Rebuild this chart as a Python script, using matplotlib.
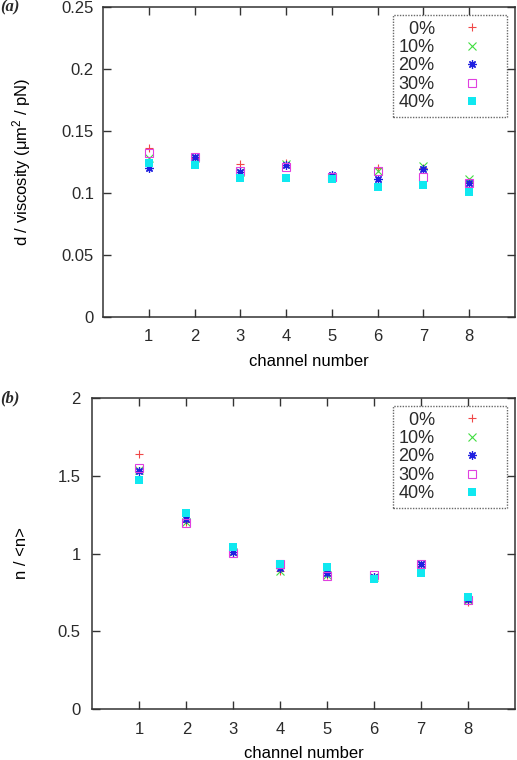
import matplotlib
matplotlib.use('Agg')
from matplotlib import pyplot as plt
from matplotlib.lines import Line2D

plt.rcParams['font.family'] = ['Liberation Sans', 'DejaVu Sans']
plt.rcParams['font.size'] = 12
plt.rcParams['text.color'] = '#2a2a2a'

channels = [1, 2, 3, 4, 5, 6, 7, 8]
labels = ['0%', '10%', '20%', '30%', '40%']

# panel (a): d / viscosity
visc = {
    '0%':  [0.136, 0.128, 0.123, 0.124, 0.113, 0.120, 0.120, 0.109],
    '10%': [0.128, 0.128, 0.117, 0.123, 0.113, 0.118, 0.122, 0.111],
    '20%': [0.120, 0.129, 0.117, 0.1225, 0.1145, 0.111, 0.119, 0.108],
    '30%': [0.132, 0.129, 0.118, 0.121, 0.113, 0.118, 0.113, 0.108],
    '40%': [0.124, 0.1225, 0.112, 0.112, 0.111, 0.1045, 0.1065, 0.101],
}

# panel (b): n / <n>
nrel = {
    '0%':  [1.638, 1.20, 1.01, 0.89, 0.86, 0.85, 0.92, 0.690],
    '10%': [1.54, 1.20, 1.01, 0.889, 0.86, 0.85, 0.93, 0.70],
    '20%': [1.53, 1.220, 1.01, 0.91, 0.872, 0.85, 0.932, 0.71],
    '30%': [1.552, 1.194, 1.001, 0.93, 0.855, 0.862, 0.93, 0.70],
    '40%': [1.473, 1.262, 1.044, 0.932, 0.911, 0.834, 0.877, 0.722],
}

styles = {
    '0%':  dict(marker='+', color='#f04848', ms=6, mew=0.8),
    '10%': dict(marker='x', color='#40dd40', ms=5.5, mew=0.8),
    '20%': dict(marker=(8, 2, 0), color='#2020e0', ms=6, mew=0.9),
    '30%': dict(marker='s', mfc='none', color='#e040e0', ms=5.5, mew=0.8),
    '40%': dict(marker='s', color='#10e8f0', ms=6, mew=0),
}

axcol = '#333333'


def draw_panel(ax, data, ylim, yticks, ylabel, ypad, ylab_x):
    for lab in labels:
        ax.plot(channels, data[lab], linestyle='none', label=lab, **styles[lab])
    ax.set_xlim(0, 9)
    ax.set_ylim(*ylim)
    ax.set_xticks(channels)
    ax.set_yticks(yticks)
    ax.set_yticklabels([f'{t:g}' for t in yticks])
    ax.tick_params(direction='in', top=True, right=True, length=6, width=1,
                   color=axcol, labelcolor='#2a2a2a', labelsize=12)
    ax.tick_params(axis='x', pad=9)
    ax.tick_params(axis='y', pad=ypad)
    for s in ax.spines.values():
        s.set_linewidth(1.1)
        s.set_color(axcol)
    ax.set_xlabel('channel number', labelpad=6.5)
    ax.set_ylabel(ylabel)
    ax.yaxis.set_label_coords(ylab_x, 0.5)

    handles = [Line2D([], [], linestyle='none', **styles[lab]) for lab in labels]
    leg = ax.legend(handles, ['\u2007' + l if len(l) == 2 else l for l in labels],
                    loc='upper right', markerfirst=False, fancybox=False,
                    borderaxespad=0.45, labelspacing=0.08, handletextpad=0.4,
                    handlelength=3.3, borderpad=0.3, fontsize=13)
    fr = leg.get_frame()
    fr.set_linestyle((0, (1, 1)))
    fr.set_edgecolor('#444444')
    fr.set_linewidth(1.0)


fig = plt.figure(figsize=(5.17, 7.6), dpi=100)
ax1 = fig.add_axes([0.1992, 0.5829, 0.797, 0.4079])
ax2 = fig.add_axes([0.1789, 0.0671, 0.8172, 0.4092])

draw_panel(ax1, visc, (0, 0.25), [0, 0.05, 0.1, 0.15, 0.2, 0.25],
           r'd / viscosity ($\mathregular{\mu m^2}$ / pN)', 6.5, -0.170)
draw_panel(ax2, nrel, (0, 2), [0, 0.5, 1, 1.5, 2], 'n / <n>', 8.5, -0.150)

fig.text(0.0, 0.990, '(a)', fontsize=12, fontweight='bold', fontstyle='italic',
         family='Liberation Serif', va='center')
fig.text(0.0, 0.476, '(b)', fontsize=12, fontweight='bold', fontstyle='italic',
         family='Liberation Serif', va='center')

fig.savefig('out.png', dpi=100)
